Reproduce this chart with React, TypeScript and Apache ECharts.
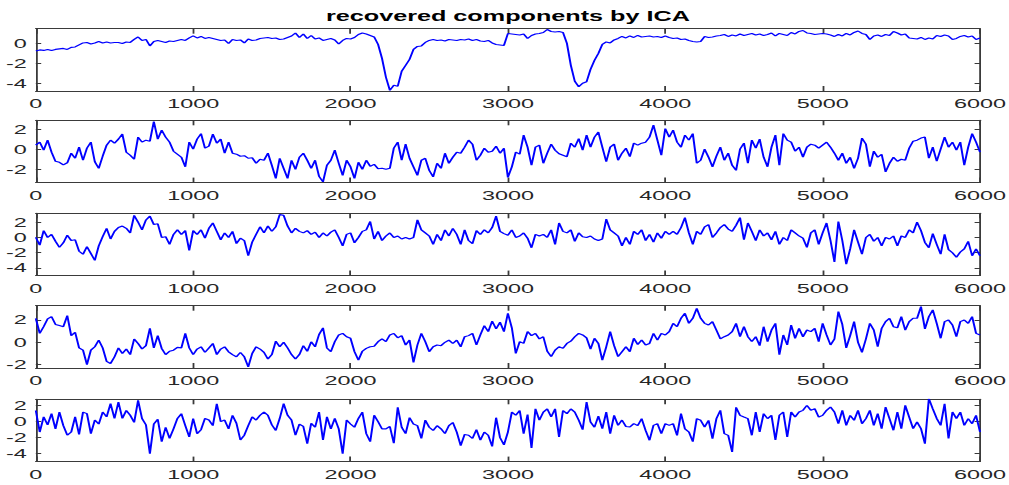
import React, { useEffect, useRef } from "react";
import * as echarts from "echarts";

// ---------------- data (one value every SAMPLE_STEP samples) ----------------
const TITLE = "recovered components by ICA";
const SAMPLE_STEP = 25;
const X_MIN = 0;
const X_MAX = 6000;
const X_INTERVAL = 1000;

const comp1 = [
  -0.75, -0.65, -0.7, -0.6, -0.72, -0.6, -0.55, -0.5, -0.6, -0.4, -0.35, -0.15, 0.05, 0.1, -0.05, 0.05, 0.2, 0.05, 0.15, 0.05,
  0.1, 0.1, 0.0, 0.15, 0.1, 0.4, 0.65, 0.3, 0.4, -0.25, 0.2, 0.3, 0.2, 0.1, 0.25, 0.2, 0.3, 0.4, 0.3, 0.55,
  0.75, 0.55, 0.7, 0.5, 0.6, 0.5, 0.4, 0.3, 0.35, 0.0, 0.4, 0.3, 0.35, 0.05, 0.45, 0.3, 0.35, 0.5, 0.55, 0.6,
  0.5, 0.55, 0.4, 0.45, 0.6, 0.75, 1.05, 0.6, 0.95, 0.5, 0.8, 0.45, 0.55, 0.3, 0.4, 0.5, 0.35, -0.05, 0.3, 0.5,
  0.45, 0.6, 0.9, 1.05, 0.95, 0.8, 0.65, -0.1, -1.5, -3.4, -4.72, -4.2, -4.3, -2.8, -2.2, -1.6, -0.6, -0.3, -0.25, 0.1,
  0.3, 0.4, 0.3, 0.35, 0.25, 0.4, 0.35, 0.3, 0.4, 0.35, 0.45, 0.3, 0.4, 0.25, 0.2, 0.3, 0.05, -0.1, -0.15, -0.2,
  1.0, 0.95, 0.9, 0.85, 0.95, 0.5, 0.8, 0.95, 1.0, 1.1, 1.4, 1.2, 1.15, 1.2, 1.1, 0.0, -2.2, -3.8, -4.35, -4.0,
  -3.85, -2.6, -1.7, -1.0, -0.1, 0.15, 0.05, 0.35, 0.5, 0.7, 0.55, 0.75, 0.6, 0.8, 0.65, 0.7, 0.75, 0.65, 0.7, 0.6,
  0.75, 0.6, 0.5, 0.55, 0.4, 0.45, 0.3, 0.2, 0.15, 0.2, 0.7, 0.6, 0.65, 0.75, 0.8, 0.9, 0.7, 0.85, 0.75, 0.95,
  0.8, 0.9, 1.0, 0.85, 0.95, 0.8, 0.9, 1.05, 0.75, 1.0, 0.9, 0.8, 1.1, 0.95, 1.2, 1.3, 1.05, 1.0, 0.9, 0.95,
  1.0, 0.95, 0.85, 0.7, 0.9, 0.75, 1.0, 0.85, 1.1, 1.25, 1.0, 0.9, 0.4, 0.75, 0.85, 0.7, 0.9, 0.8, 1.2, 1.05,
  0.85, 0.95, 0.55, 0.5, 0.45, 0.6, 0.4, 0.55, 0.45, 0.8, 0.7, 0.85, 0.75, 0.4, 0.5, 0.7, 0.8, 0.65, 0.75, 0.4,
  0.55,
];

const comp2 = [
  0.4, 0.7, -0.1, 0.9, -0.3, -1.2, -1.3, -1.55, -1.35, -0.4, -0.9, 0.2, -1.1, 0.1, 0.7, -1.25, -1.9, -0.7, 0.4, 0.9,
  0.6, 1.0, 1.5, -0.3, -0.6, -1.0, 1.2, 0.7, 0.9, 0.8, 2.75, 1.0, 1.9, 1.2, 0.7, -0.2, -0.5, -0.8, -1.75, 0.7,
  0.0, 1.0, 1.55, 0.1, 0.3, 1.5, 0.6, 1.0, -0.4, 0.7, -0.4, -0.5, -0.7, -0.65, -0.9, -0.85, -1.4, -1.0, -1.1, -0.4,
  -1.6, -2.9, -0.9, -1.9, -2.9, -1.1, -2.0, -0.8, -0.4, -1.1, -1.9, -1.1, -2.7, -3.25, -1.6, -1.1, -0.1, -1.4, -2.6, -1.1,
  -1.75, -2.9, -1.3, -2.0, -1.1, -1.7, -1.5, -1.95, -1.9, -2.0, -1.9, 0.1, 0.7, -1.1, 0.5, -0.9, -1.75, -2.6, -1.1, -0.9,
  -2.1, -2.75, -1.4, -1.9, -0.4, -1.4, -0.8, -0.3, -0.4, 0.2, 0.9, 0.5, -1.1, -0.6, 0.1, -0.3, -0.2, 0.3, -0.4, 0.1,
  -2.8, -1.75, -0.3, -0.5, 1.4, 0.2, -1.6, 0.2, 0.4, -1.4, -0.4, 0.5, -0.1, -0.45, -0.6, -0.75, 0.6, 0.2, 1.05, -0.1,
  1.4, 0.2, 1.2, 1.7, 0.2, -1.25, 0.2, 0.5, -1.1, -0.4, 0.1, -0.75, 0.6, 0.4, 0.6, 0.7, 1.2, 2.4, 0.9, -0.6,
  2.05, 1.2, 1.9, 0.7, 0.2, 1.4, 0.9, 1.55, -1.4, -1.1, 0.0, -0.8, -1.75, -0.7, 0.2, -1.1, -0.4, -1.6, -2.1, 0.0,
  0.6, -1.4, 0.9, 0.1, 1.0, -0.8, -1.75, 0.2, 1.4, -1.6, 1.55, 0.9, 0.7, -0.2, 0.2, -0.8, 0.2, 0.5, 0.4, 0.1,
  0.4, 0.7, 0.2, -0.4, -1.1, -0.4, -1.4, -0.8, -1.9, -0.9, 1.1, 0.5, -1.75, -0.2, -0.8, -0.5, -2.25, -1.4, -0.8, -1.2,
  -1.0, -1.1, 0.1, 0.8, 0.9, 1.1, 1.2, -0.9, 0.2, -1.2, 0.0, 1.2, 0.2, 0.7, -0.1, 0.7, -1.6, 0.2, 1.55, 0.7,
  -0.3,
];

const comp3 = [
  0.0, -1.0, 0.9, 0.0, 0.4, -0.5, -1.3, -0.7, 0.3, -0.4, -0.3, -1.8, -2.2, -1.2, -2.1, -3.0, -1.1, 0.1, 1.2, -0.2,
  0.8, 1.3, 1.5, 1.2, 0.6, 2.9, 2.0, 1.0, 2.3, 2.8, 1.7, 1.8, 0.0, 0.1, -0.9, 0.4, 1.0, 0.4, 0.9, -1.7,
  0.9, 0.4, 1.0, -0.1, 1.2, 1.9, 0.8, -0.3, 0.6, 0.0, 0.8, -0.8, -0.1, -0.4, -2.4, -0.6, 0.4, 1.4, 0.6, 1.5,
  0.8, 1.4, 3.0, 2.9, 1.5, 0.6, 1.2, 0.8, 0.6, 0.9, 0.4, 0.7, 0.0, 0.6, 0.2, 0.7, 1.0, 0.0, -1.1, 0.4,
  0.6, -0.7, 0.0, 0.8, 1.0, 2.1, -0.2, 0.8, -0.4, 0.2, 0.6, 0.0, 0.2, -0.2, 0.0, -0.2, 0.0, 2.3, 1.0, 0.6,
  0.2, -0.9, 0.4, -0.4, 1.0, 0.2, 1.2, 0.4, -0.9, 1.0, -0.4, -0.8, 0.9, 0.4, 1.0, 0.6, 1.3, 2.8, 0.8, 0.5,
  0.3, 1.0, 0.0, 0.2, 0.6, -0.1, -1.35, 0.4, 0.2, 0.4, 0.0, 1.0, -0.9, 1.9, 0.8, 0.6, 1.0, -0.5, 0.6, 0.1,
  0.0, 0.2, -0.2, -0.4, -0.2, 2.4, 1.0, 0.6, 0.2, -1.1, 0.0, -0.9, 0.8, 0.4, 1.0, -0.4, 0.4, -0.6, 0.6, -0.1,
  0.8, 0.4, 0.8, 0.4, 1.3, 2.6, 0.6, -0.9, 0.8, 0.4, 1.4, 1.7, 0.0, 0.6, 1.3, 1.7, 1.1, 0.8, 1.6, 2.6,
  -0.3, 1.9, 0.8, -0.4, 1.0, 0.2, 0.6, -0.3, 0.8, -0.9, 0.0, -0.4, 1.0, 0.6, 0.2, -0.1, -1.3, 0.6, 1.0, -0.9,
  0.6, 1.9, -0.4, -3.2, 2.1, -0.4, -3.5, -1.5, 1.0, -0.6, -2.2, 0.0, 0.4, -0.5, 0.0, -1.1, 0.0, -0.2, 0.2, -1.1,
  0.2, 0.0, 1.0, 0.6, 2.0, 0.9, -0.65, -1.35, 0.5, -0.9, -2.2, 0.4, -1.6, -2.0, -2.6, -1.9, -1.5, -0.5, -2.4, -1.5,
  -2.4,
];

const comp4 = [
  2.15, 0.8, 1.4, 2.1, 2.3, 1.6, 1.5, 1.4, 2.4, 0.6, 0.9, -0.5, -0.7, -2.0, -0.7, -0.4, 0.2, -0.5, -1.7, -1.9,
  -1.3, -0.5, -1.0, -0.6, -1.1, 0.3, -0.1, -0.6, -0.3, 1.25, -0.5, 0.6, -0.55, -1.1, -0.8, -0.7, -0.45, -0.5, 0.8, -0.5,
  -1.1, -0.6, -0.4, -0.9, -0.5, -0.1, -1.1, -0.6, -0.4, -0.85, -1.1, -1.3, -0.9, -1.3, -2.2, -1.0, -0.4, -0.6, -0.9, -1.5,
  -1.1, 0.1, -0.4, 0.0, -0.5, -1.1, -1.5, -1.1, -0.3, -0.8, 0.05, -0.4, 0.7, 1.3, -0.5, -0.84, 0.06, 0.66, 0.8, 0.5,
  0.36, -0.84, -1.6, -0.8, -0.54, -0.4, -0.35, 0.06, 0.3, 0.06, 0.66, 0.8, 0.4, 0.6, -0.24, 0.2, -1.8, -0.24, 0.8, 0.06,
  -0.84, -0.4, -0.24, -0.3, 0.0, 0.2, -0.1, 0.2, -0.4, 0.5, 0.6, 0.8, -0.24, 0.66, 1.5, 0.96, 1.9, 1.2, 1.8, 0.96,
  2.6, 1.3, -1.0, 0.06, -0.1, 0.96, 0.6, 0.8, 0.3, 0.5, -0.8, -1.28, -0.7, -0.4, -0.54, -0.1, 0.1, 0.5, 0.8, 0.66,
  0.4, -0.6, 0.36, -0.1, -1.6, -0.4, 0.96, -0.3, -1.28, -0.84, -0.4, -0.84, 0.36, -0.2, 0.2, -0.24, -0.1, 0.8, 0.2, 0.8,
  0.66, 0.96, 1.7, 1.4, 2.15, 2.6, 1.7, 2.15, 3.05, 2.15, 1.7, 1.55, 1.85, 1.1, 0.3, 0.5, 0.66, 0.96, 1.7, 0.5,
  1.4, 0.5, 0.06, 0.5, -0.3, 1.4, 0.06, 1.1, 1.7, -1.1, 0.66, -0.24, 1.55, 0.36, 1.25, 0.5, 1.1, 0.96, 1.25, 0.06,
  1.7, 0.66, -0.24, 0.3, 2.75, 1.6, -0.5, 0.6, 1.85, 0.0, -0.9, 0.3, 1.7, 1.1, -0.39, 1.25, 1.85, 2.15, 1.4, 1.3,
  2.3, 1.1, 1.85, 2.15, 2.15, 3.2, 1.2, 2.3, 2.9, 1.7, 0.36, 1.85, 2.0, 1.55, 0.5, 1.85, 2.0, 1.7, 2.3, 0.8,
  0.66,
];

const comp5 = [
  1.4, -1.3, 0.6, -0.4, 1.0, -0.9, 1.2, -0.5, -1.7, -1.3, 0.6, -1.6, 1.2, 1.0, -1.5, 0.2, -0.3, 1.2, 0.6, 2.25,
  0.4, 2.46, 0.4, 1.4, 0.8, -0.1, 2.67, 0.4, -0.4, -4.0, -0.3, 0.3, -2.5, -0.7, -2.1, -0.9, 0.4, 1.0, -0.5, -1.9,
  0.4, -1.5, -1.0, 0.4, 0.2, -0.5, 2.25, 0.0, 0.2, -0.9, 0.8, -0.2, -2.3, -1.7, -0.5, 0.6, 0.2, 0.8, 1.2, 0.8,
  -0.4, -1.1, 0.4, 2.25, 0.8, 0.2, -1.7, -0.3, -0.6, -2.75, -0.2, -0.7, 1.2, -2.3, 0.6, -0.9, 0.4, -0.9, -4.0, 0.2,
  -0.3, -0.7, 0.4, 1.2, -1.5, -2.5, 0.8, 0.0, -0.9, -0.9, -0.6, -2.7, 1.8, -0.7, -1.5, 0.5, -0.3, -0.5, -2.1, 0.2,
  -0.7, -1.1, -0.5, -0.9, -1.5, -0.5, -0.1, -1.3, -3.0, -1.6, -1.7, -2.1, -1.0, -2.3, -1.3, -1.7, -3.1, 0.5, -2.0, -2.9,
  -1.3, 1.2, 0.8, 1.4, -1.5, 0.9, -3.3, 1.6, 0.2, 1.2, 1.6, 0.6, 1.6, -1.9, 1.4, 1.0, 1.6, 1.2, 0.2, -1.0,
  2.46, -0.04, -0.7, 0.7, -0.88, 1.2, -1.5, 0.79, -0.46, 0.2, -0.6, -0.67, -0.25, -0.5, 0.38, -1.1, -2.33, -0.46, -0.25, -1.5,
  -0.25, -0.46, -0.25, -1.71, 1.0, -0.9, -1.29, -2.5, 0.38, 0.17, -0.67, 0.17, -2.13, 0.38, 1.42, -1.5, -1.71, -3.8, 1.8, 0.79,
  0.58, 0.38, -1.71, 1.21, -1.29, 1.0, 0.38, 0.79, -2.3, 0.8, 1.21, -1.92, 1.21, 0.58, 1.21, 1.42, 2.04, 1.42, 1.63, 0.58,
  0.79, 1.42, 1.83, 1.21, -0.25, 1.42, -0.46, 0.79, 0.17, 1.42, -0.25, 0.38, 1.42, -0.46, 1.0, -0.88, 1.83, 0.38, -1.08, 1.21,
  -0.88, 2.04, 0.58, -0.88, -0.04, -0.88, -2.75, 2.9, 1.6, 0.4, -0.46, 2.25, -2.1, 1.21, 0.4, 1.2, -0.46, 0.38, -0.25, 0.79,
  -1.29,
];

const COMPONENTS = [comp1, comp2, comp3, comp4, comp5];
const Y_RANGES = [
  [-4.78, 1.48],
  [-3.32, 2.87],
  [-5.0, 3.17],
  [-2.3, 3.28],
  [-5.0, 2.8],
];
const Y_TICKS = [
  [-4, -2, 0],
  [-2, 0, 2],
  [-4, -2, 0, 2],
  [-2, 0, 2],
  [-4, -2, 0, 2],
];

// ---------------- layout ----------------
const SX = 1.8; // the reference is horizontally stretched
const W = 1009 / SX;
const H = 485;
const GRID_TOPS = [28.7, 120.3, 213.3, 305.7, 399.3];
const GRID_H = 62.3;
const GRID_LEFT = 35.8 / SX;
const GRID_RIGHT = W - 980 / SX;
const FONT = "'Liberation Sans', Arial, Helvetica, sans-serif";
const AXIS_COLOR = "#3a3a3a";
const LABEL_COLOR = "#262626";

function buildOption() {
  const axisLine = { show: true, onZero: false, lineStyle: { color: AXIS_COLOR, width: 1 } };
  const grid: any[] = [];
  const xAxis: any[] = [];
  const yAxis: any[] = [];
  const series: any[] = [];
  COMPONENTS.forEach((vals, i) => {
    grid.push({
      left: GRID_LEFT,
      right: GRID_RIGHT,
      top: GRID_TOPS[i],
      height: GRID_H,
      containLabel: false,
      outerBoundsMode: "none",
    });
    const xBase = {
      type: "value",
      gridIndex: i,
      min: X_MIN,
      max: X_MAX,
      interval: X_INTERVAL,
      axisLine,
      splitLine: { show: false },
      axisTick: { show: true, inside: true, length: 5, lineStyle: { color: AXIS_COLOR, width: 1 } },
    };
    xAxis.push({
      ...xBase,
      position: "bottom",
      axisLabel: {
        show: true,
        margin: 6,
        fontSize: 13,
        fontFamily: FONT,
        color: LABEL_COLOR,
        showMinLabel: true,
        showMaxLabel: true,
        formatter: (v: number) => String(v),
      },
    });
    xAxis.push({ ...xBase, position: "top", axisLabel: { show: false } });
    const yBase = {
      type: "value",
      gridIndex: i,
      min: Y_RANGES[i][0],
      max: Y_RANGES[i][1],
      axisLine,
      splitLine: { show: false },
      axisTick: {
        show: true,
        inside: true,
        length: 3,
        customValues: Y_TICKS[i],
        lineStyle: { color: AXIS_COLOR, width: 1 },
      },
    };
    yAxis.push({
      ...yBase,
      position: "left",
      axisLabel: {
        show: true,
        margin: 5,
        fontSize: 13,
        fontFamily: FONT,
        color: LABEL_COLOR,
        customValues: Y_TICKS[i],
        formatter: (v: number) => String(v),
      },
    });
    yAxis.push({ ...yBase, position: "right", axisLabel: { show: false } });
    series.push({
      type: "line",
      name: "component " + (i + 1),
      xAxisIndex: 2 * i,
      yAxisIndex: 2 * i,
      data: vals.map((v, k) => [k * SAMPLE_STEP, v]),
      showSymbol: false,
      symbol: "none",
      silent: true,
      clip: true,
      lineStyle: { color: "#0000ff", width: 1.1 },
    });
  });
  return {
    animation: false,
    backgroundColor: "#ffffff",
    title: {
      text: TITLE,
      left: (GRID_LEFT + (W - GRID_RIGHT)) / 2,
      top: 9.5,
      padding: 0,
      textAlign: "center",
      textStyle: { fontSize: 14, fontWeight: "bold", color: "#000000", fontFamily: FONT },
    },
    grid,
    xAxis,
    yAxis,
    series,
  };
}

export default function App() {
  const ref = useRef<HTMLDivElement>(null);
  useEffect(() => {
    if (!ref.current) return;
    const chart = echarts.init(ref.current, null, { renderer: "svg", width: W, height: H });
    chart.setOption(buildOption() as any);
    return () => {
      chart.dispose();
    };
  }, []);
  return (
    <div
      ref={ref}
      style={{
        position: "absolute",
        left: 0,
        top: 0,
        width: W,
        height: H,
        transform: `scaleX(${SX})`,
        transformOrigin: "0 0",
        background: "#ffffff",
      }}
    />
  );
}
